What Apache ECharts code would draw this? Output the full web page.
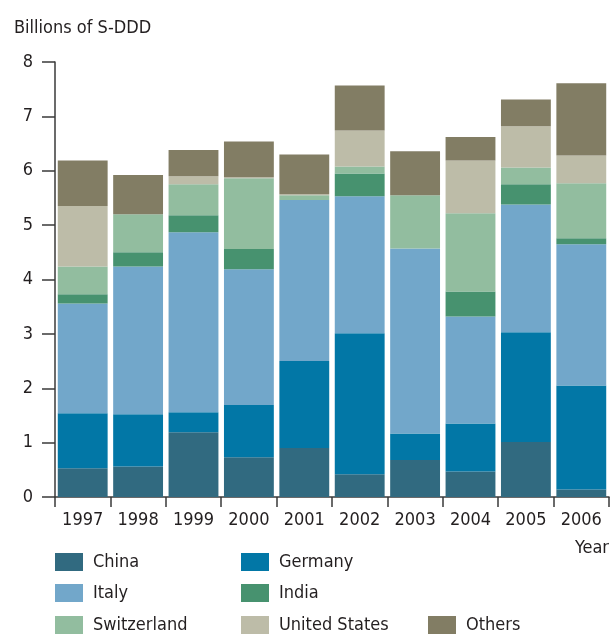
<!DOCTYPE html>
<html>
<head>
<meta charset="utf-8">
<script src="https://cdn.jsdelivr.net/npm/echarts@6/dist/echarts.min.js"></script>
<style>
html,body{margin:0;padding:0;background:#fff;}
#chart{width:612px;height:634px;}
</style>
</head>
<body>
<div id="chart"></div>
<script>
const years = ['1997','1998','1999','2000','2001','2002','2003','2004','2005','2006'];
const china       = [0.53, 0.56, 1.19, 0.73, 0.90, 0.42, 0.68, 0.47, 1.01, 0.14];
const germany     = [1.01, 0.96, 0.37, 0.96, 1.60, 2.59, 0.49, 0.88, 2.02, 1.91];
const italy       = [2.02, 2.72, 3.31, 2.50, 2.96, 2.52, 3.40, 1.97, 2.35, 2.60];
const india       = [0.17, 0.26, 0.31, 0.37, 0.00, 0.42, 0.00, 0.46, 0.37, 0.11];
const switzerland = [0.51, 0.70, 0.57, 1.30, 0.09, 0.13, 0.98, 1.44, 0.31, 1.01];
const unitedStates= [1.11, 0.00, 0.15, 0.02, 0.02, 0.66, 0.00, 0.97, 0.76, 0.51];
const others      = [0.84, 0.72, 0.48, 0.66, 0.73, 0.83, 0.81, 0.43, 0.49, 1.33];
const yTicks = [0, 1, 2, 3, 4, 5, 6, 7, 8];

const FONT = "'Liberation Sans Narrow','DejaVu Sans Condensed',sans-serif";
const TXT = '#231f20';

const seriesDefs = [
  ['China', china, '#316a80'],
  ['Germany', germany, '#0277a6'],
  ['Italy', italy, '#72a7ca'],
  ['India', india, '#47926f'],
  ['Switzerland', switzerland, '#92bd9f'],
  ['United States', unitedStates, '#bdbca8'],
  ['Others', others, '#827d64']
];

const legendPos = {
  'China': [55, 553], 'Germany': [241, 553],
  'Italy': [55, 584], 'India': [241, 584],
  'Switzerland': [55, 616], 'United States': [241, 616], 'Others': [428, 616]
};

const chart = echarts.init(document.getElementById('chart'), null, {renderer: 'canvas'});
chart.setOption({
  animation: false,
  textStyle: {fontFamily: FONT},
  title: {
    text: 'Billions of S-DDD', left: 9, top: 14,
    textStyle: {fontFamily: FONT, fontSize: 18, fontWeight: 'normal', color: TXT}
  },
  legend: seriesDefs.map(d => ({
    data: [d[0]],
    left: legendPos[d[0]][0], top: legendPos[d[0]][1],
    itemWidth: 28, itemHeight: 18, itemGap: 0,
    icon: 'rect', padding: 0,
    textStyle: {fontFamily: FONT, fontSize: 18, color: TXT, padding: [0, 0, 0, 5]},
    selectedMode: false
  })),
  grid: {left: 55, right: 3, top: 62, bottom: 137, containLabel: false},
  xAxis: {
    type: 'category', data: years,
    name: 'Year', nameLocation: 'end',
    nameGap: 0,
    nameTextStyle: {fontFamily: FONT, fontSize: 18, color: TXT, align: 'right', verticalAlign: 'top', padding: [42, 0, 0, 0]},
    axisLine: {show: true, lineStyle: {color: '#3a3a3a', width: 1.5}},
    axisTick: {show: true, length: 10, lineStyle: {color: '#3a3a3a', width: 1.5}},
    axisLabel: {fontFamily: FONT, fontSize: 18, color: TXT, margin: 14},
    splitLine: {show: false}
  },
  yAxis: {
    type: 'value', min: 0, max: 8, interval: 1,
    axisLine: {show: true, lineStyle: {color: '#3a3a3a', width: 1.5}},
    axisTick: {show: true, length: 13, lineStyle: {color: '#3a3a3a', width: 1.5}},
    axisLabel: {fontFamily: FONT, fontSize: 18, color: TXT, margin: 22,
      formatter: v => yTicks.includes(v) ? String(v) : ''},
    splitLine: {show: false}
  },
  series: seriesDefs.map(d => ({
    name: d[0], type: 'bar', stack: 'total', data: d[1],
    barCategoryGap: '10%',
    itemStyle: {color: d[2]},
    emphasis: {disabled: true}
  }))
});
</script>
</body>
</html>
